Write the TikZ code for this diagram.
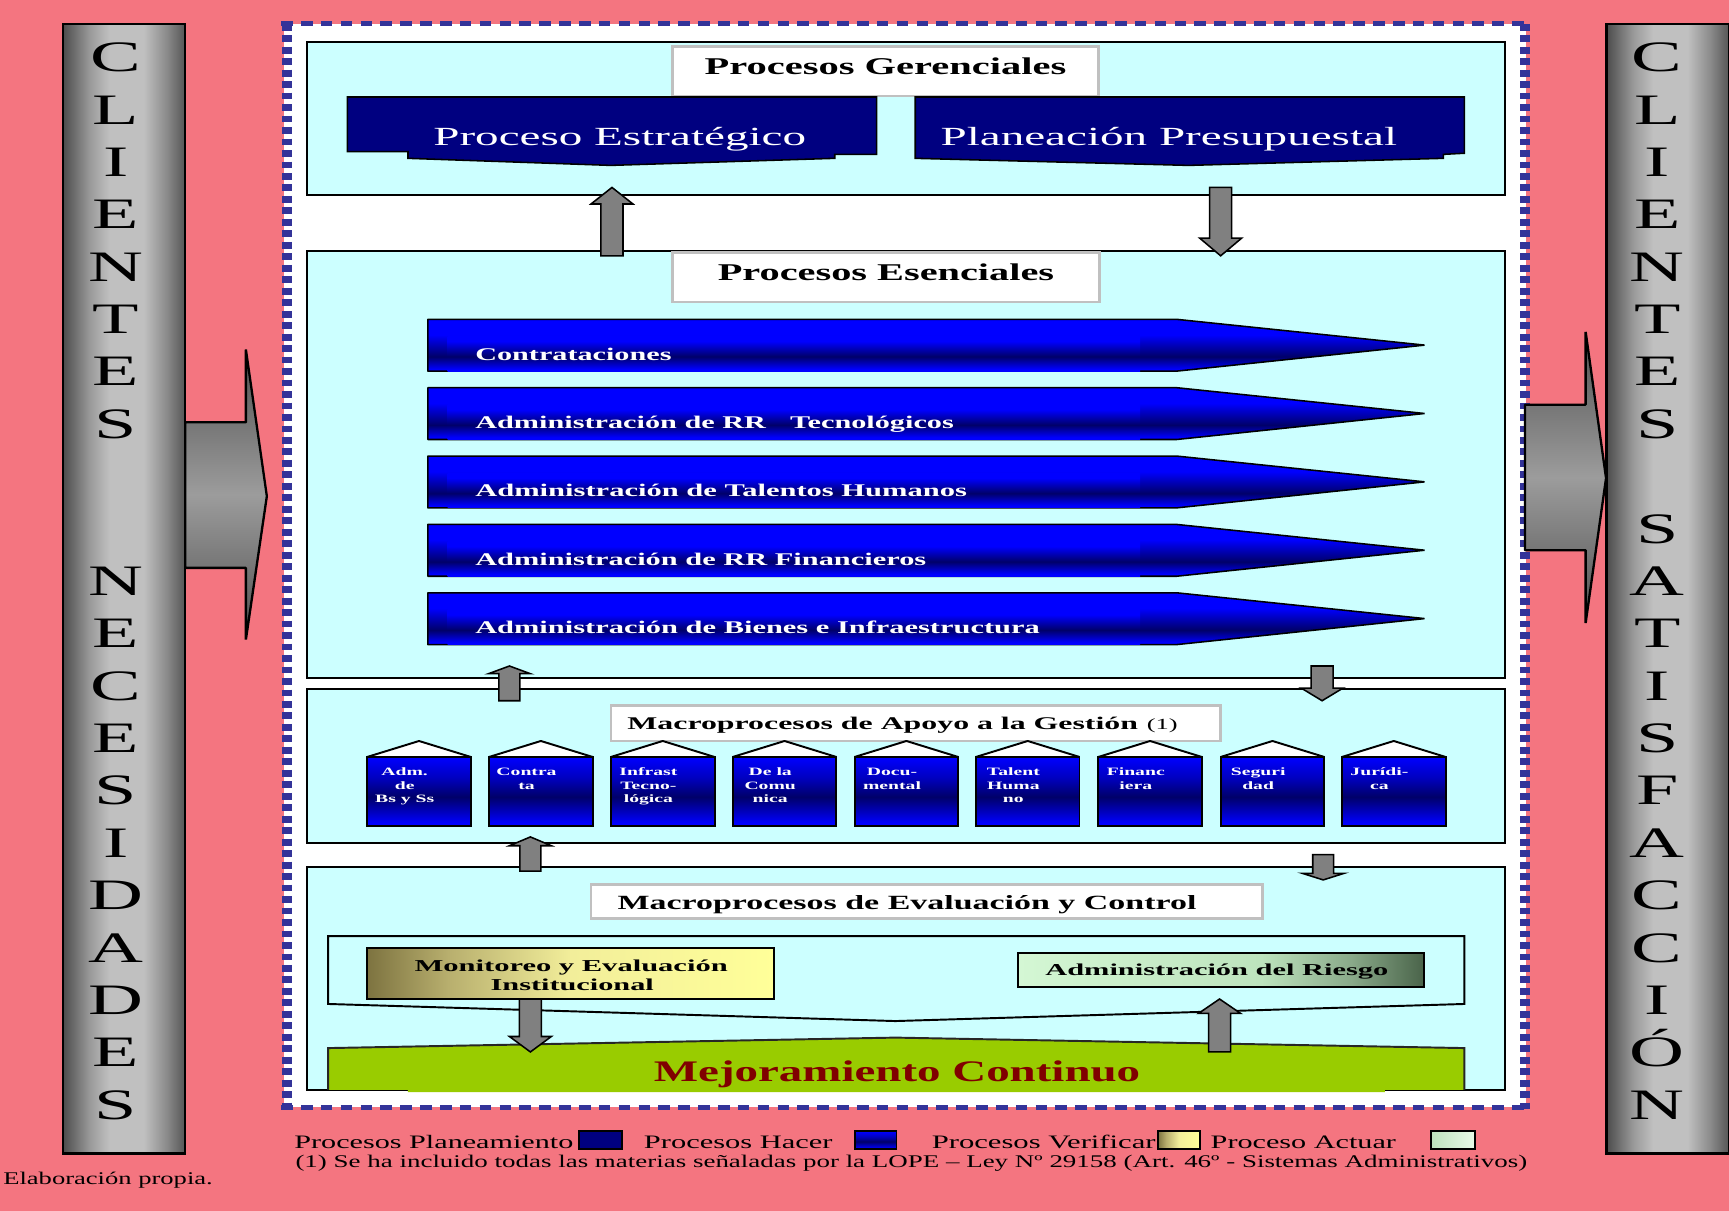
\documentclass[tikz,border=0pt]{standalone}
\usepackage{fontspec}
\setmainfont{Liberation Serif}
\usepackage{graphicx}

% one drawing unit
\newdimen\pxu
\pxu=0.01cm
% squeeze or stretch a text horizontally to a given width (in drawing units)
\newcommand\fw[2]{\resizebox{#1\pxu}{\height}{#2}}
% wide lettering
\newcommand\hs[1]{\scalebox{1.75}[1]{#1}}

\definecolor{pinkbg}{RGB}{244,117,128}
\definecolor{panelcyan}{RGB}{204,255,255}
\definecolor{dashblue}{RGB}{51,51,153}
\definecolor{navyplan}{RGB}{0,0,128}
\definecolor{hblue}{RGB}{0,0,255}
\definecolor{hmid}{RGB}{0,0,192}
\definecolor{hdark}{RGB}{0,0,105}
\definecolor{titlegray}{RGB}{192,192,192}
\definecolor{arrgray}{RGB}{128,128,128}
\definecolor{greenmc}{RGB}{153,204,0}
\definecolor{darkredmc}{RGB}{128,0,0}
\definecolor{colA}{RGB}{76,76,76}
\definecolor{colB}{RGB}{154,154,154}
\definecolor{colC}{RGB}{192,192,192}
\definecolor{colD}{RGB}{138,138,138}
\definecolor{colE}{RGB}{85,85,85}
\definecolor{gA}{RGB}{80,80,80}
\definecolor{gB}{RGB}{156,156,156}
\definecolor{mA}{RGB}{125,115,64}
\definecolor{mB}{RGB}{184,175,110}
\definecolor{mC}{RGB}{242,238,154}
\definecolor{mD}{RGB}{255,255,153}
\definecolor{rA}{RGB}{212,247,212}
\definecolor{rB}{RGB}{189,227,189}
\definecolor{rC}{RGB}{138,170,138}
\definecolor{rD}{RGB}{74,100,74}

% cylinder-like side columns
\pgfdeclarehorizontalshading{colsh}{100bp}{color(0bp)=(colA); color(25bp)=(colA); color(36bp)=(colB); color(44bp)=(colC); color(58bp)=(colC); color(67.5bp)=(colD); color(75bp)=(colE); color(100bp)=(colE)}
% big gray block arrows
\pgfdeclareverticalshading{bigarr}{100bp}{color(0bp)=(gA); color(25bp)=(gA); color(50bp)=(gB); color(75bp)=(gA); color(100bp)=(gA)}
% blue process bars
\pgfdeclareverticalshading{barout}{100bp}{color(0bp)=(hblue); color(27bp)=(hblue); color(39bp)=(hdark); color(60bp)=(hblue); color(100bp)=(hblue)}
\pgfdeclareverticalshading{barin}{100bp}{color(0bp)=(hblue); color(28bp)=(hblue); color(46bp)=(hdark); color(68bp)=(hblue); color(100bp)=(hblue)}
\pgfdeclareverticalshading{housesh}{100bp}{color(0bp)=(hblue); color(27bp)=(hblue); color(35bp)=(hmid); color(46bp)=(hdark); color(60bp)=(hmid); color(75bp)=(hblue); color(100bp)=(hblue)}
% evaluation boxes
\pgfdeclarehorizontalshading{monsh}{100bp}{color(0bp)=(mA); color(25bp)=(mA); color(35bp)=(mB); color(50bp)=(mC); color(75bp)=(mD); color(100bp)=(mD)}
\pgfdeclarehorizontalshading{rsksh}{100bp}{color(0bp)=(rA); color(25bp)=(rA); color(55bp)=(rB); color(66bp)=(rC); color(75bp)=(rD); color(100bp)=(rD)}

\tikzset{
  txt/.style={inner sep=0pt, outer sep=0pt},
  panel/.style={fill=panelcyan, draw=black, line width=0.5pt},
  titlebox/.style={fill=white, draw=titlegray, line width=0.7pt},
  blockarr/.style={fill=arrgray, draw=black, line width=0.4pt},
  plan/.style={fill=navyplan, draw=black, line width=0.4pt},
  titletxt/.style={txt, anchor=base, font=\fontsize{6.2}{7}\selectfont\bfseries},
  subtitletxt/.style={txt, anchor=base west, font=\fontsize{4.6}{5.5}\selectfont\bfseries},
  plantxt/.style={txt, anchor=base, text=white, font=\fontsize{6.75}{8}\selectfont},
  bartxt/.style={txt, anchor=base west, text=white, font=\fontsize{4.6}{5.5}\selectfont\bfseries},
  hlbl/.style={txt, anchor=base, text=white, font=\fontsize{2.9}{3.5}\selectfont\bfseries},
  evaltxt/.style={txt, anchor=base, font=\fontsize{4.3}{5}\selectfont\bfseries},
  colletter/.style={txt, anchor=base, font=\fontsize{11.2}{13}\selectfont},
  legtxt/.style={txt, anchor=base west, font=\fontsize{4.9}{6}\selectfont},
}

% vertical block arrow: centre x, tip y, head base y, tail y, half shaft, half head
\newcommand\blockarrow[6]{%
  \draw[blockarr] (#1-#5,#4) -- (#1-#5,#3) -- (#1-#6,#3) -- (#1,#2)
    -- (#1+#6,#3) -- (#1+#5,#3) -- (#1+#5,#4) -- cycle;}

% support process box (house shape)
\newcommand\housebox[1]{%
  \shade[shading=housesh, draw=black, line width=0.5pt] (#1,686.5) rectangle (#1+94,749);
  \draw[fill=white, line width=0.5pt, line join=bevel] (#1,686.5) -- (#1+47,672) -- (#1+94,686.5) -- cycle;}

% label lines of a support process box
\newcommand\hlabel[3]{%
  \foreach \ln [count=\j from 0] in {#3}
    {\node[hlbl] (#1-\j) at (#2+34, 703.5+12.3*\j) {\hs{\ln}};}}

\begin{document}
\begin{tikzpicture}[x=0.01cm, y=-0.01cm]
\useasboundingbox (0,0) rectangle (1568,1098);
\fill[pinkbg] (0,0) rectangle (1568,1098);

% ---------- side columns ----------
\shade[shading=colsh, draw=black, line width=0.6pt] (57,22) rectangle (168,1046);
\shade[shading=colsh, draw=black, line width=0.6pt] (1457,22) rectangle (1568,1046);

\foreach \k/\ch in {0/C,1/L,2/I,3/E,4/N,5/T,6/E,7/S,10/N,11/E,12/C,13/E,14/S,15/I,16/D,17/A,18/D,19/E,20/S}
  {\node[colletter] (lc\k) at (105, 65+47.5*\k) {\hs{\ch}};}
\foreach \k/\ch in {0/C,1/L,2/I,3/E,4/N,5/T,6/E,7/S,9/S,10/A,11/T,12/I,13/S,14/F,15/A,16/C,17/C,18/I,19/Ó,20/N}
  {\node[colletter] (rc\k) at (1503, 65+47.5*\k) {\hs{\ch}};}

% ---------- dashed frame ----------
\fill[white] (258,22) rectangle (1384,1004);
\draw[dashblue, line width=1.28pt, dash pattern=on 2.99pt off 2.13pt] (255,21.6) -- (1388,21.6);
\draw[dashblue, line width=1.28pt, dash pattern=on 2.99pt off 2.13pt] (255,1004) -- (1388,1004);
\draw[dashblue, line width=2.56pt, dash pattern=on 1.76pt off 1.2pt] (260,21.6) -- (260,1006);
\draw[dashblue, line width=2.56pt, dash pattern=on 1.76pt off 1.2pt] (1383,21.6) -- (1383,1006);

% ---------- big in/out arrows ----------
\shade[shading=bigarr, draw=black, line width=0.6pt, line join=bevel]
  (168,383) -- (223,383) -- (223,317) -- (242,450) -- (223,580) -- (223,515) -- (168,515) -- cycle;
\shade[shading=bigarr, draw=black, line width=0.6pt, line join=bevel]
  (1383,367) -- (1438,367) -- (1438,301) -- (1456.5,433.6) -- (1438,565) -- (1438,499) -- (1383,499) -- cycle;

% ---------- panels ----------
\draw[panel] (278,38) rectangle (1365,177);
\draw[panel] (278,228) rectangle (1365,615);
\draw[panel] (278,625) rectangle (1365,764.5);
\draw[panel] (278,786) rectangle (1365,988.5);

% ---------- management processes ----------
\draw[titlebox] (610,42) rectangle (996,87);
\node[titletxt] (tger) at (803,68) {\fw{328}{Procesos Gerenciales}};

\draw[plan] (315,88) -- (795,88) -- (795,140) -- (757,140) -- (757,143.6) -- (554,150)
  -- (370,143.6) -- (370,137.5) -- (315,137.5) -- cycle;
\node[plantxt] (pest) at (562,132) {\fw{338}{Proceso Estratégico}};

\draw[plan] (830,88) -- (1328,88) -- (1328,139) -- (1309,140) -- (1309,143.6) -- (1078,150)
  -- (830,143.6) -- cycle;
\node[plantxt] (ppre) at (1060,132) {\fw{414}{Planeación Presupuestal}};

% ---------- essential processes ----------
\draw[titlebox] (610,229) rectangle (997,274);
\node[titletxt] (tesen) at (803.5,254) {\fw{305}{Procesos Esenciales}};

\foreach \k/\lbl/\w in {0/Contrataciones/178,
    1/{Administración de RR\hspace{0.8em}Tecnológicos}/434,
    2/{Administración de Talentos Humanos}/446,
    3/{Administración de RR Financieros}/409,
    4/{Administración de Bienes e Infraestructura}/512} {
  \pgfmathsetmacro\yt{289.6+62*\k}
  \shade[shading=barout, draw=black, line width=0.4pt, line join=bevel]
    (388,\yt) -- (1067,\yt) -- (1292,\yt+23.4) -- (1067,\yt+47) -- (388,\yt+47) -- cycle;
  \shade[shading=barin] (406,\yt+15.5) rectangle (1034,\yt+47);
  \node[bartxt] (bar\k) at (431,\yt+37) {\fw{\w}{\lbl}};
}

% ---------- support processes ----------
\draw[titlebox] (554,640) rectangle (1107,672);
\node[subtitletxt] (tapo) at (569,662) {\fw{463}{Macroprocesos de Apoyo a la Gestión}};
\node[txt, anchor=base west, font=\fontsize{4}{5}\selectfont] (tapon) at (1040,662) {\fw{28}{(1)}};

\foreach \xl in {333,443.5,554,664.5,775,885,996,1107,1217} {\housebox{\xl}}
\hlabel{hA}{333}{Adm.,de,Bs y Ss}
\hlabel{hB}{443.5}{Contra,ta}
\hlabel{hC}{554}{Infrast,Tecno-,lógica}
\hlabel{hD}{664.5}{De la,Comu,nica}
\hlabel{hE}{775}{Docu-,mental}
\hlabel{hF}{885}{Talent,Huma,no}
\hlabel{hG}{996}{Financ,iera}
\hlabel{hH}{1107}{Seguri,dad}
\hlabel{hI}{1217}{Jurídi-,ca}

% ---------- evaluation and control ----------
\draw[titlebox] (536,802) rectangle (1145,833);
\node[txt, anchor=base west, font=\fontsize{5.2}{6}\selectfont\bfseries] (teva) at (560,824.5)
  {\fw{525}{Macroprocesos de Evaluación y Control}};

\draw[panel] (297.6,849) -- (1328,849) -- (1328,910.5) -- (812,926) -- (297.6,910.5) -- cycle;

\fill[greenmc] (297.6,950.5) -- (812,941) -- (1328,950.5) -- (1328,988.5) -- (1256,988.5)
  -- (1256,990.5) -- (370,990.5) -- (370,988.5) -- (297.6,988.5) -- cycle;
\draw[black!85, line width=0.5pt] (297.6,988.5) -- (297.6,950.5) -- (812,941) -- (1328,950.5) -- (1328,988.5);
\begin{scope}
  \clip (297.6,930) rectangle (1328,988.5);
  \node[txt, anchor=base west, text=darkredmc, font=\fontsize{7.7}{9}\selectfont\bfseries] (tmej)
    at (593,981) {\fw{441}{Mejoramiento Continuo}};
\end{scope}

\shade[shading=monsh, draw=black, line width=0.5pt] (333,860) rectangle (702,906);
\node[evaltxt] (mon1) at (518,880.6) {\fw{284}{Monitoreo y Evaluación}};
\node[evaltxt] (mon2) at (519,898.7) {\fw{148}{Institucional}};

\shade[shading=rsksh, draw=black, line width=0.5pt] (923,864) rectangle (1291,895);
\node[evaltxt, anchor=base west] (rsk) at (948,885) {\fw{311}{Administración del Riesgo}};

% ---------- flow arrows between levels ----------
\blockarrow{555}{170}{185}{232}{10}{19}
\blockarrow{1107}{232}{216}{170}{10}{19}
\blockarrow{462}{604}{611}{635.5}{9.5}{19}
\blockarrow{1199}{635.5}{624}{604}{10}{19}
\blockarrow{481}{759}{767}{790}{9.5}{19}
\blockarrow{1200}{798}{792}{775}{9.5}{19}
\blockarrow{481}{954}{940}{906}{10}{19}
\blockarrow{1106}{906}{919}{954}{10}{19}

% ---------- legend ----------
\node[legtxt] (lg1) at (267,1042) {\fw{253}{Procesos Planeamiento}};
\fill[navyplan, draw=black, line width=0.5pt] (525,1026) rectangle (564,1042);
\node[legtxt] (lg2) at (584,1042) {\fw{171}{Procesos Hacer}};
\shade[shading=housesh, draw=black, line width=0.5pt] (775,1026) rectangle (813,1042);
\node[legtxt] (lg3) at (845,1042) {\fw{203}{Procesos Verificar}};
\shade[shading=monsh, draw=black, line width=0.5pt] (1050,1026) rectangle (1088,1042);
\node[legtxt] (lg4) at (1098,1042) {\fw{168}{Proceso Actuar}};
\shade[left color=rB, right color=rA!50!white, draw=black, line width=0.5pt] (1298,1026) rectangle (1338,1042);

\node[legtxt, font=\fontsize{4.6}{5.5}\selectfont] (note) at (268,1059)
  {\fw{1117}{(1) Se ha incluido todas las materias señaladas por la LOPE – Ley Nº 29158 (Art. 46º - Sistemas Administrativos)}};
\node[legtxt, font=\fontsize{4.6}{5.5}\selectfont] (src) at (3,1074) {\fw{190}{Elaboración propia.}};
\end{tikzpicture}
\end{document}
